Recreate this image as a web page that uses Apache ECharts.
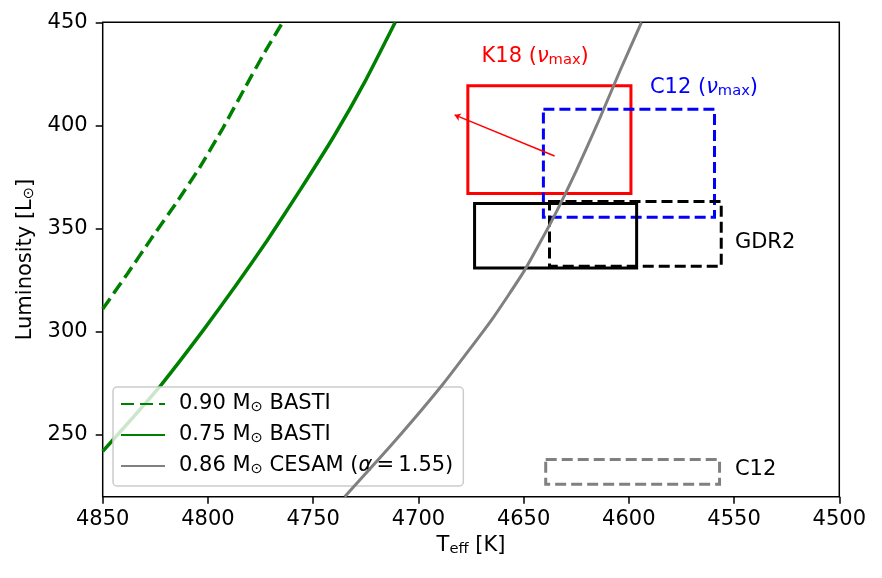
<!DOCTYPE html>
<html>
<head>
<meta charset="utf-8">
<script src="https://cdn.jsdelivr.net/npm/echarts@6/dist/echarts.min.js"></script>
<style>
  html, body { margin: 0; padding: 0; background: #fff; }
  #chart { width: 882px; height: 578px; }
</style>
</head>
<body>
<div id="chart"></div>
<script>
// tick values
const xTicks = [4850, 4800, 4750, 4700, 4650, 4600, 4550, 4500];
const yTicks = [250, 300, 350, 400, 450];

// evolutionary tracks [Teff, L]
const basti090 = [[4850, 311], [4838, 328.5], [4827, 345], [4815, 362.5], [4804, 379.5], [4793, 398.5], [4782, 419], [4773, 435.5], [4764.5, 450]];
const basti075 = [[4850, 242], [4836, 258], [4822, 274.5], [4802, 301], [4787, 322], [4772, 344], [4756, 369], [4740, 395], [4725, 422], [4711, 450]];
const cesam086 = [[4735, 220], [4712, 246], [4688, 275], [4665, 306], [4650, 329], [4637, 353], [4625, 378], [4614, 403], [4604, 427], [4594, 450]];

// error boxes [Tlow, Thigh, Llow, Lhigh]
const k18Box = [4599, 4676.5, 367, 419.2];
const c12NumaxBox = [4559.3, 4640.6, 355.5, 407.9];
const gdr2SolidBox = [4596.3, 4673.3, 330.9, 362.1];
const gdr2DashBox = [4556.1, 4637.7, 331.7, 363.1];
const c12Box = [4556.9, 4639.5, 226, 238];

// red arrow [tail, head]
const k18Arrow = [[4635.3, 385.2], [4682.8, 405.1]];

// text labels [Teff, L]
const k18LabelPos = [4670, 433.5];
const c12NumaxLabelPos = [4590, 418.3];
const gdr2LabelPos = [4549.6, 343.4];
const c12LabelPos = [4549.6, 233.2];

const FONT = "DejaVu Sans";
const FS = 21;

const legendNames = {
  "0.90 M⊙ BASTI": "0.90 M{sub|⊙} BASTI",
  "0.75 M⊙ BASTI": "0.75 M{sub|⊙} BASTI",
  "0.86 M⊙ CESAM (α = 1.55)": "0.86 M{sub|⊙} CESAM ({it|α}\u2009=\u20091.55)",
};

function richFor(color, size) {
  return {
    sub: { fontFamily: FONT, fontSize: size * 0.7, color: color, padding: [size * 0.35, 0, 0, 0] },
    it: { fontFamily: FONT, fontSize: size, color: color, fontStyle: "italic" },
  };
}

function boxSeries(name, box, color, dash) {
  return {
    name: name,
    type: "custom",
    data: [box],
    z: 3,
    renderItem: (params, api) => {
      const p0 = api.coord([api.value(0), api.value(3)]);
      const p1 = api.coord([api.value(1), api.value(2)]);
      return {
        type: "rect",
        shape: {
          x: Math.min(p0[0], p1[0]),
          y: Math.min(p0[1], p1[1]),
          width: Math.abs(p1[0] - p0[0]),
          height: Math.abs(p1[1] - p0[1]),
        },
        style: {
          fill: null,
          stroke: color,
          lineWidth: 3,
          lineDash: dash ? [11, 5] : null,
          lineJoin: "miter",
        },
      };
    },
  };
}

function labelSeries(pos, text, color) {
  return {
    type: "scatter",
    data: [pos],
    symbolSize: 0,
    silent: true,
    z: 5,
    itemStyle: { opacity: 1 },
    label: {
      show: true,
      position: "right",
      distance: 0,
      formatter: text,
      fontFamily: FONT,
      fontSize: FS,
      color: color,
      opacity: 1,
      rich: richFor(color, FS),
    },
  };
}

const chart = echarts.init(document.getElementById("chart"));

const option = {
  animation: false,
  grid: {
    left: 102.7,
    right: 42.7,
    top: 22.3,
    bottom: 81.3,
    show: true,
    borderColor: "#000",
    borderWidth: 1.5,
    backgroundColor: "#fff",
  },
  legend: {
    data: Object.keys(legendNames),
    orient: "vertical",
    left: 113,
    top: 387,
    itemWidth: 44,
    itemHeight: 14,
    itemGap: 7,
    padding: [5, 10, 8, 7],
    backgroundColor: "rgba(255,255,255,0.8)",
    borderColor: "#cccccc",
    borderWidth: 1.5,
    borderRadius: 4,
    itemStyle: { opacity: 0 },
    formatter: (name) => legendNames[name],
    textStyle: {
      fontFamily: FONT,
      fontSize: FS,
      lineHeight: 24,
      color: "#000",
      padding: [0, 0, 0, 9],
      rich: richFor("#000", FS),
    },
  },
  xAxis: {
    type: "value",
    inverse: true,
    min: 4500,
    max: 4850,
    interval: 50,
    name: "T{sub|eff} [K]",
    nameLocation: "middle",
    nameGap: 36,
    nameTextStyle: { fontFamily: FONT, fontSize: FS, color: "#000", rich: richFor("#000", FS) },
    axisLine: { show: false },
    axisTick: { show: true, length: 7, lineStyle: { color: "#000", width: 1.5 }, customValues: xTicks },
    axisLabel: { fontFamily: FONT, fontSize: FS, color: "#000", margin: 12, customValues: xTicks, formatter: (v) => String(v) },
    splitLine: { show: false },
  },
  yAxis: {
    type: "value",
    min: 220,
    max: 450,
    name: "Luminosity [L{sub|⊙}]",
    nameLocation: "middle",
    nameGap: 64,
    nameRotate: 90,
    nameTextStyle: { fontFamily: FONT, fontSize: FS, color: "#000", rich: richFor("#000", FS) },
    axisLine: { show: false },
    axisTick: { show: true, length: 7, lineStyle: { color: "#000", width: 1.5 }, customValues: yTicks },
    axisLabel: { fontFamily: FONT, fontSize: FS, color: "#000", margin: 15, customValues: yTicks, formatter: (v) => String(v) },
    splitLine: { show: false },
  },
  series: [
    {
      name: "0.90 M⊙ BASTI",
      type: "line",
      data: basti090,
      symbol: "none",
      smooth: 0.15,
      lineStyle: { color: "#008000", width: 3.5, type: [13, 6] },
      itemStyle: { color: "#008000" },
      z: 2,
    },
    {
      name: "0.75 M⊙ BASTI",
      type: "line",
      data: basti075,
      symbol: "none",
      smooth: 0.15,
      lineStyle: { color: "#008000", width: 3.5 },
      itemStyle: { color: "#008000" },
      z: 2,
    },
    {
      name: "0.86 M⊙ CESAM (α = 1.55)",
      type: "line",
      data: cesam086,
      symbol: "none",
      smooth: 0.15,
      lineStyle: { color: "#808080", width: 3 },
      itemStyle: { color: "#808080" },
      z: 4,
    },
    boxSeries("K18", k18Box, "#ff0000", false),
    boxSeries("C12 numax", c12NumaxBox, "#0000ff", true),
    boxSeries("GDR2 a", gdr2SolidBox, "#000000", false),
    boxSeries("GDR2 b", gdr2DashBox, "#000000", true),
    boxSeries("C12", c12Box, "#808080", true),
    {
      type: "lines",
      coordinateSystem: "cartesian2d",
      data: [{ coords: k18Arrow }],
      symbol: ["none", "arrow"],
      symbolSize: 6,
      lineStyle: { color: "#ff0000", width: 1.5, opacity: 1 },
      z: 4,
    },
    labelSeries(k18LabelPos, "K18 ({it|ν}{sub|max})", "#ff0000"),
    labelSeries(c12NumaxLabelPos, "C12 ({it|ν}{sub|max})", "#0000ff"),
    labelSeries(gdr2LabelPos, "GDR2", "#000000"),
    labelSeries(c12LabelPos, "C12", "#000000"),
  ],
};

chart.setOption(option);
</script>
</body>
</html>
